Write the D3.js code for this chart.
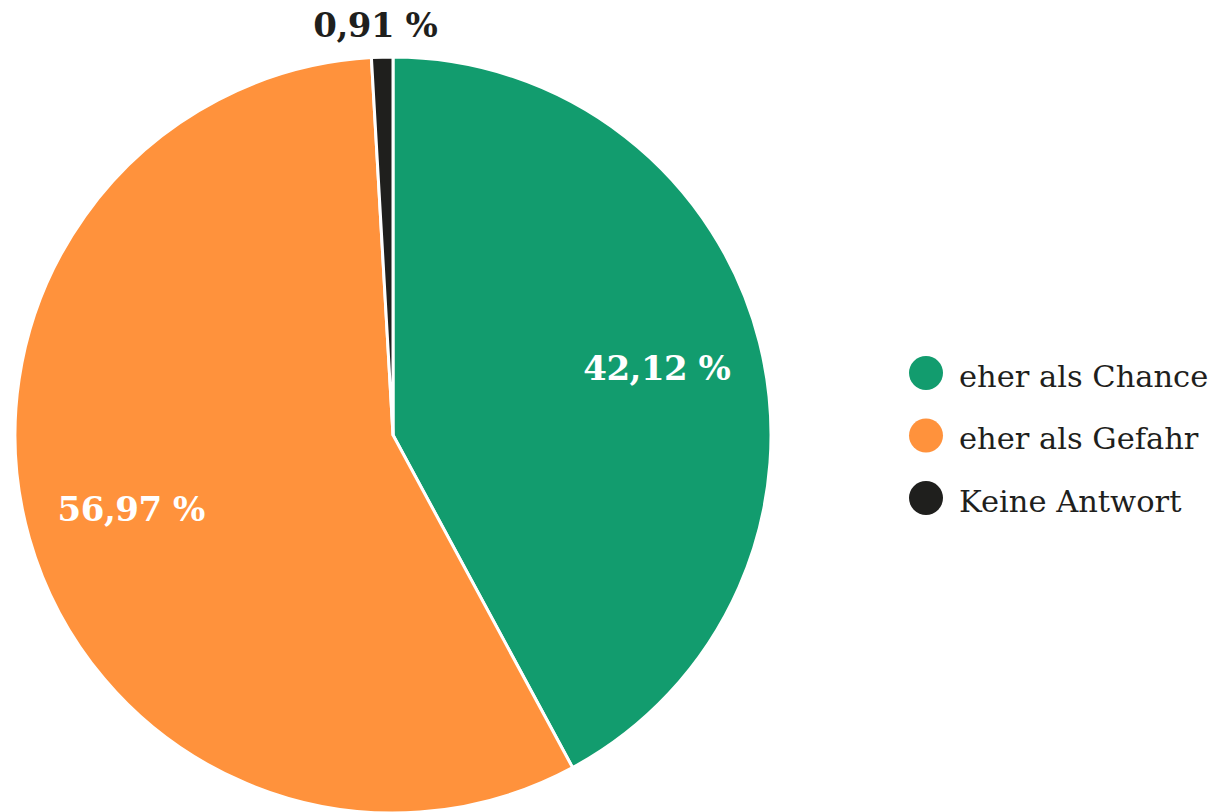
<!DOCTYPE html>
<html>
<head>
<meta charset="utf-8">
<script src="https://cdn.jsdelivr.net/npm/d3@7"></script>
<style>
  html, body { margin: 0; padding: 0; background: #ffffff; }
  svg { display: block; }
</style>
</head>
<body>
<svg id="chart" width="1215" height="812"></svg>
<script>
// Survey answers: share of responses per category (percent)
const categories = ["eher als Chance", "eher als Gefahr", "Keine Antwort"];
const shares = [42.12, 56.97, 0.91];
const colors = ["#129c6e", "#ff923c", "#1f1f1d"];

const fmt = v => v.toFixed(2).replace(".", ",") + " %";

const svg = d3.select("#chart");
const cx = 393, cy = 435, R = 378;

const pie = d3.pie().sort(null).value(d => d.value);
const arcs = pie(categories.map((c, i) => ({ name: c, value: shares[i], color: colors[i] })));

const arc = d3.arc().innerRadius(0).outerRadius(R);
const labelArc = d3.arc().innerRadius(R * 0.72).outerRadius(R * 0.72);
const outsideArc = d3.arc().innerRadius(R + 32).outerRadius(R + 32);

const g = svg.append("g").attr("transform", `translate(${cx},${cy})`);

g.selectAll("path.slice")
  .data(arcs)
  .join("path")
  .attr("class", "slice")
  .attr("d", arc)
  .attr("fill", d => d.data.color)
  .attr("stroke", "#ffffff")
  .attr("stroke-width", 3)
  .attr("stroke-linejoin", "round");

const labelFont = "'DejaVu Serif', serif";

g.selectAll("text.value")
  .data(arcs)
  .join("text")
  .attr("class", "value")
  .each(function (d) {
    const small = d.data.value < 5;
    const [x, y] = small ? outsideArc.centroid(d) : labelArc.centroid(d);
    d3.select(this)
      .attr("x", small ? x - 6 : x)
      .attr("y", y)
      .attr("fill", small ? "#1f1f1d" : "#ffffff");
  })
  .attr("text-anchor", "middle")
  .attr("dominant-baseline", "central")
  .attr("font-family", labelFont)
  .attr("font-weight", "bold")
  .attr("font-size", 34)
  .attr("letter-spacing", -0.5)
  .text(d => fmt(d.data.value));

// Legend
const legend = svg.append("g").attr("transform", "translate(926,373)");
const item = legend.selectAll("g.item")
  .data(categories)
  .join("g")
  .attr("class", "item")
  .attr("transform", (d, i) => `translate(0,${i * 62.5})`);

item.append("circle")
  .attr("r", 17)
  .attr("fill", (d, i) => colors[i]);

item.append("text")
  .attr("x", 33)
  .attr("y", 3)
  .attr("dominant-baseline", "central")
  .attr("font-family", labelFont)
  .attr("font-size", 30.5)
  .attr("fill", "#1f1f1d")
  .text(d => d);
</script>
</body>
</html>
